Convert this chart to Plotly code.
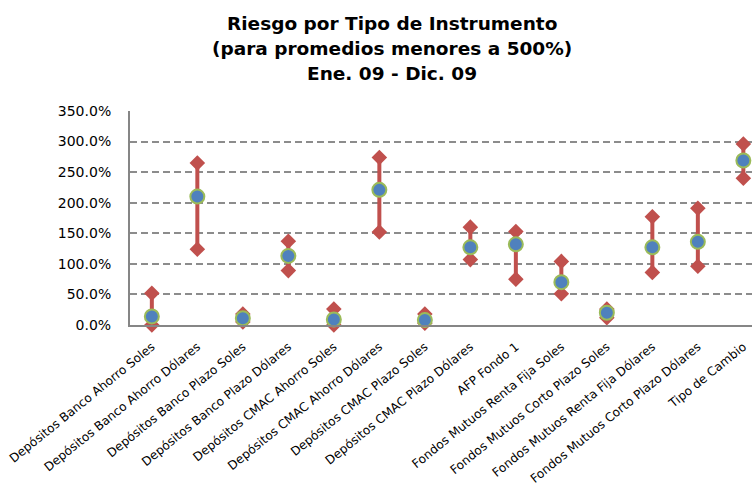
import plotly.graph_objects as go

categorias = [
    "Depósitos Banco Ahorro Soles",
    "Depósitos Banco Ahorro Dólares",
    "Depósitos Banco Plazo Soles",
    "Depósitos Banco Plazo Dólares",
    "Depósitos CMAC Ahorro Soles",
    "Depósitos CMAC Ahorro Dólares",
    "Depósitos CMAC Plazo Soles",
    "Depósitos CMAC Plazo Dólares",
    "AFP Fondo 1",
    "Fondos Mutuos Renta Fija Soles",
    "Fondos Mutuos Corto Plazo Soles",
    "Fondos Mutuos Renta Fija Dólares",
    "Fondos Mutuos Corto Plazo Dólares",
    "Tipo de Cambio",
]
maximo = [52, 265, 18, 137, 26, 274, 18, 160, 153, 104, 26, 177, 191, 296]
promedio = [14, 210, 11, 113, 9, 221, 8, 127, 132, 70, 20, 127, 136, 269]
minimo = [0, 124, 5, 89, 0, 152, 3, 107, 75, 51, 12, 86, 96, 240]
ticks_y = [0, 50, 100, 150, 200, 250, 300, 350]

ROJO = "#C0504D"
AZUL = "#4F81BD"
VERDE = "#9BBB59"
GRIS = "#868686"

idx = list(range(len(categorias)))

# vertical range bars (min to max) for each instrument
xs, ys = [], []
for i, lo, hi in zip(idx, minimo, maximo):
    xs += [i, i, None]
    ys += [lo, hi, None]

fig = go.Figure()
fig.add_trace(go.Scatter(
    x=xs, y=ys, mode="lines",
    line=dict(color=ROJO, width=4),
    hoverinfo="skip", showlegend=False, cliponaxis=False,
))
fig.add_trace(go.Scatter(
    x=idx + idx, y=maximo + minimo, mode="markers",
    marker=dict(symbol="diamond", size=12, color=ROJO),
    showlegend=False, cliponaxis=False,
))
fig.add_trace(go.Scatter(
    x=idx, y=promedio, mode="markers",
    marker=dict(symbol="circle", size=14, color=AZUL,
                line=dict(color=VERDE, width=2)),
    showlegend=False, cliponaxis=False,
))

titulo = [
    ("Riesgo por Tipo de Instrumento", 1.41),
    ("(para promedios menores a 500%)", 1.29),
    ("Ene. 09 - Dic. 09", 1.173),
]
for texto, yy in titulo:
    fig.add_annotation(
        text=texto, xref="paper", yref="paper", x=0.421, y=yy,
        xanchor="center", yanchor="middle", showarrow=False,
        font=dict(family="DejaVu Sans", size=18.5, color="#000000",
                  weight="bold"),
    )

fig.update_layout(
    width=752, height=489,
    margin=dict(l=130, r=0, t=111, b=164, autoexpand=False),
    paper_bgcolor="white", plot_bgcolor="white",
    font=dict(family="DejaVu Sans", color="#000000"),
    xaxis=dict(
        range=[-0.48, 13.19], automargin=False,
        tickmode="array", tickvals=idx, ticktext=categorias,
        tickangle=-39, tickfont=dict(size=12.2),
        showgrid=False, zeroline=False,
        showline=True, linecolor=GRIS, linewidth=2,
        ticks="", ticklabelstandoff=8,
    ),
    yaxis=dict(
        range=[0, 350], automargin=False,
        tickmode="array", tickvals=ticks_y,
        ticktext=[f"{v:.1f}%" for v in ticks_y],
        tickfont=dict(size=14),
        showgrid=True, gridcolor="#8C8C8C", gridwidth=1.5, griddash="7px,4px",
        zeroline=False,
        showline=True, linecolor=GRIS, linewidth=2,
        ticks="", ticklabelstandoff=14,
    ),
)

fig.write_html("out.html")
